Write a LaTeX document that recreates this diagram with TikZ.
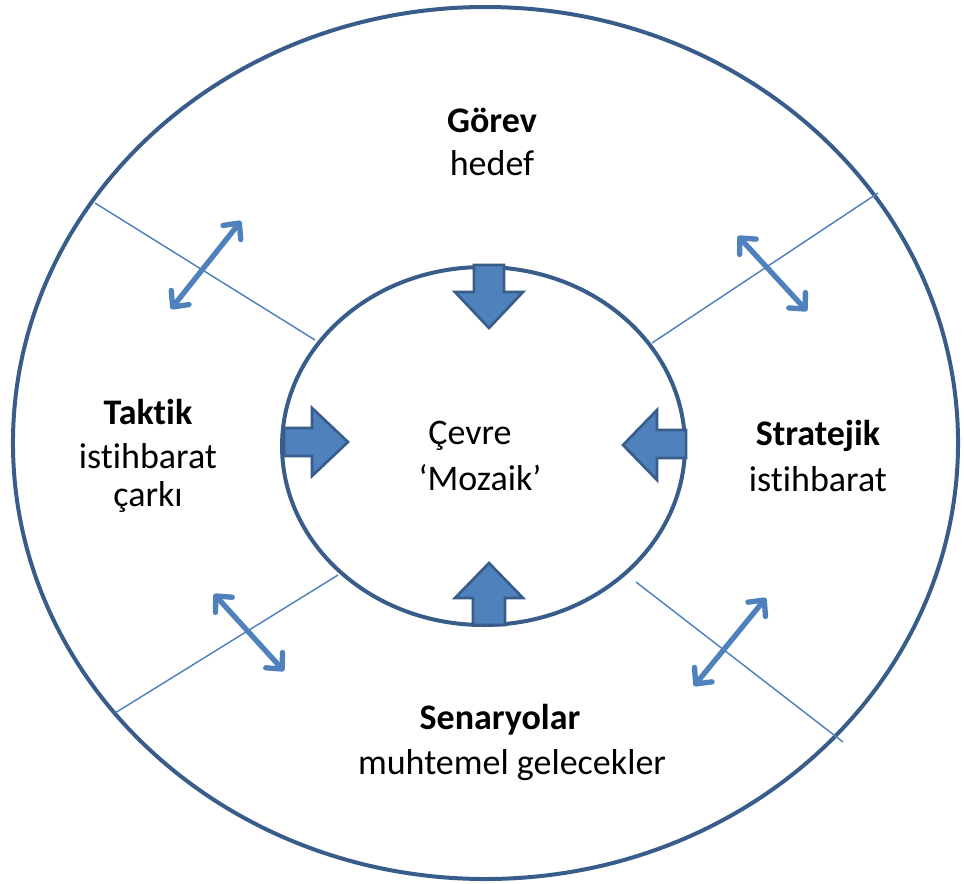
\documentclass[tikz,border=0pt]{standalone}
\usepackage{fontspec}
\setmainfont{Carlito}[Ligatures=NoCommon]
\usetikzlibrary{arrows.meta}
\definecolor{ringblue}{HTML}{385D8A}
\definecolor{fillblue}{HTML}{4F81BD}
\begin{document}
\begin{tikzpicture}[x=0.75pt,y=-0.75pt,
  ring/.style={draw=ringblue,line width=3pt},
  divider/.style={draw=fillblue,line width=1.1pt},
  flow/.style={draw=fillblue,line width=4pt,line cap=round,
    {Straight Barb[length=9pt,width=17pt,line cap=round,line join=round]}-{Straight Barb[length=9pt,width=17pt,line cap=round,line join=round]}},
  blockarrow/.style={fill=fillblue,draw=ringblue,line width=2pt,line join=miter},
  lbl/.style={font=\fontsize{27}{32}\selectfont,inner sep=0pt,anchor=center},
  ttl/.style={lbl,font=\fontsize{27}{32}\selectfont\bfseries}]
\useasboundingbox (0,0) rectangle (964,883);
% rings
\draw[ring] (485.5,443) ellipse [x radius=354.4pt, y radius=327pt];
\draw[ring,fill=white] (483.5,446) ellipse [x radius=151.1pt, y radius=134.25pt];
% dividers
\coordinate (ulo) at (95,203);  \coordinate (uli) at (315,340);
\coordinate (uro) at (878,193); \coordinate (uri) at (652,343);
\coordinate (llo) at (115,713); \coordinate (lli) at (338,575);
\coordinate (lro) at (843,742); \coordinate (lri) at (636,582);
\draw[divider] (ulo) -- (uli);
\draw[divider] (uro) -- (uri);
\draw[divider] (llo) -- (lli);
\draw[divider] (lro) -- (lri);
% double arrows
\coordinate (ula) at (241,221); \coordinate (ulb) at (171,309);
\coordinate (ura) at (738,236); \coordinate (urb) at (807,311);
\coordinate (lra) at (766,598); \coordinate (lrb) at (694,686);
\coordinate (lla) at (214,594); \coordinate (llb) at (284,671);
\draw[flow] (ula) -- (ulb);
\draw[flow] (ura) -- (urb);
\draw[flow] (lra) -- (lrb);
\draw[flow] (lla) -- (llb);
% block arrows
\draw[blockarrow] (474,265) -- (504,265) -- (504,292) -- (523,292) -- (489,328) -- (455,292) -- (474,292) -- cycle;
\draw[blockarrow] (473,625) -- (505,625) -- (505,598) -- (523,598) -- (489,563) -- (455,598) -- (473,598) -- cycle;
\draw[blockarrow] (284,428) -- (312,428) -- (312,408) -- (348,442) -- (312,476) -- (312,456) -- (284,456) -- cycle;
\draw[blockarrow] (686,430) -- (657,430) -- (657,410) -- (623,445) -- (657,480) -- (657,458) -- (686,458) -- cycle;
% texts
\node[ttl] (gorev) at (492,120) {Görev};
\node[lbl] (hedef) at (492,163) {hedef};
\node[ttl] (taktik) at (148,412) {Taktik};
\node[lbl] (tist) at (148,456) {istihbarat};
\node[lbl] (cark) at (148,497) {çarkı};
\node[ttl] (strat) at (818,436) {Stratejik};
\node[lbl] (sist) at (818,479) {istihbarat};
\node[ttl] (sen) at (500,720) {Senaryolar};
\node[lbl] (muh) at (512,765) {muhtemel gelecekler};
\node[lbl] (cevre) at (470,436) {Çevre};
\node[lbl] (mozaik) at (480,478) {‘Mozaik’};
\end{tikzpicture}
\end{document}
